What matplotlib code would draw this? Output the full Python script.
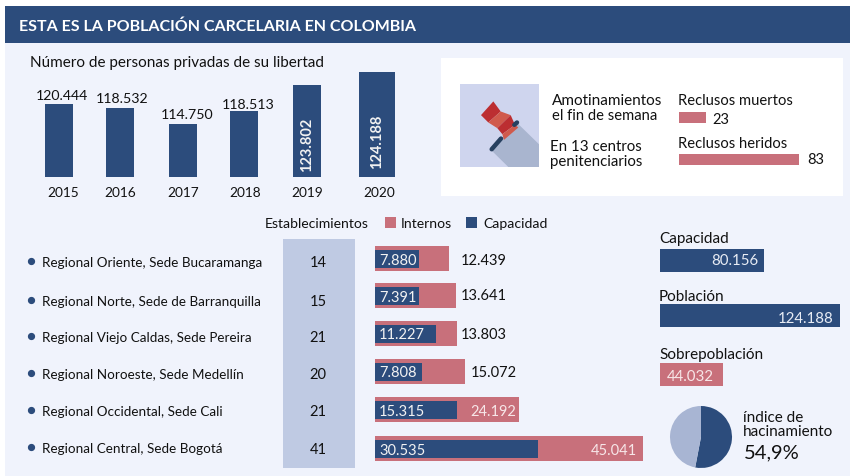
import matplotlib
matplotlib.use("Agg")
import matplotlib.pyplot as plt
from matplotlib.patches import Rectangle, Polygon

plt.rcParams['font.family'] = ['Lato', 'DejaVu Sans']

# Datos
anios = ["2015", "2016", "2017", "2018", "2019", "2020"]
personas = ["120.444", "118.532", "114.750", "118.513", "123.802", "124.188"]
# las barras de arriba no estan a escala, alturas
alturas = [73, 69, 53, 66, 92, 105]

regionales = ["Regional Oriente, Sede Bucaramanga", "Regional Norte, Sede de Barranquilla",
              "Regional Viejo Caldas, Sede Pereira", "Regional Noroeste, Sede Medellín",
              "Regional Occidental, Sede Cali", "Regional Central, Sede Bogotá"]
establecimientos = [14, 15, 21, 20, 21, 41]
internos = [12439, 13641, 13803, 15072, 24192, 45041]
capacidad = [7880, 7391, 11227, 7808, 15315, 30535]
# largo dibujado de las barras de capacidad
capacidad_largo = [7395, 7395, 10250, 7900, 13780, 27400]

totales_nombres = ["Capacidad", "Población", "Sobrepoblación"]
totales = [80156, 124188, 44032]
totales_largo = [71800, 124188, 43450]

reclusos_nombres = ["Reclusos muertos", "Reclusos heridos"]
reclusos = [23, 83]
reclusos_largo = [18.7, 83]

hacinamiento = [53, 47]

AZUL = "#2C4C7C"
ROSA = "#C8707B"
FONDO = "#F0F3FC"
TEXTO = "#111111"
W, H = 850, 477


def miles(v):
    return f"{v:,}".replace(",", ".")


def caja(x0, y0, x1, y1):
    # ejes colocados en pixeles de la imagen
    ax = fig.add_axes([x0 / W, 1 - y1 / H, (x1 - x0) / W, (y1 - y0) / H])
    ax.axis("off")
    ax.patch.set_alpha(0)
    return ax


fig = plt.figure(figsize=(8.5, 4.77), dpi=100, facecolor="white")

# Capa de fondo, en coordenadas de pixel
base = caja(0, 0, W, H)
base.set_xlim(0, W)
base.set_ylim(H, 0)

# Capa de textos, encima de todo
tapa = caja(0, 0, W, H)
tapa.set_xlim(0, W)
tapa.set_ylim(H, 0)
tapa.set_zorder(10)


def rect(x0, y0, x1, y1, color):
    base.add_patch(Rectangle((x0, y0), x1 - x0, y1 - y0, color=color, lw=0))


def texto(x, y, s, size=10, color=TEXTO, **kw):
    kw.setdefault("va", "center")
    tapa.text(x, y + 1, s, fontsize=size, color=color, **kw)


rect(5, 7, W, H, FONDO)
rect(5, 7, W, 44, AZUL)
rect(441, 59, 843, 197, "white")
rect(283, 240, 355, 469, "#BFCAE3")

texto(19, 26, "ESTA ES LA POBLACIÓN CARCELARIA EN COLOMBIA", 11.5, "white", fontweight="bold")
texto(30, 62, "Número de personas privadas de su libertad", 11)

# Barras por anio
pos_anios = [59, 120, 183, 244, 307, 377]
anchos = [28, 28, 28, 28, 28, 36]
ax1 = caja(30, 60, 410, 178)
ax1.set_xlim(30, 410)
ax1.set_ylim(0, 118)
ax1.bar(pos_anios, alturas, width=anchos, color=AZUL)
pos_etq = [(62, 95), (122, 98), (187, 114), (248, 104)]
for (x, y), s in zip(pos_etq, personas[:4]):
    texto(x, y, s, 10.2, ha="center")
texto(307, 144, personas[4], 10.5, "#F2F2F2", rotation=90, ha="center", fontweight="bold")
texto(377, 141, personas[5], 10.5, "#F2F2F2", rotation=90, ha="center", fontweight="bold")
pos_anio_txt = [63, 120, 183, 245, 307, 379]
for x, s in zip(pos_anio_txt, anios):
    texto(x, 192, s, 9.8, ha="center")

# Icono de la bandera
ic = caja(460, 85, 539, 168)
ic.set_xlim(15, 252)
ic.set_ylim(263, 15)
ic.add_patch(Rectangle((15, 15), 237, 248, color="#CFD5EE", lw=0))
ic.add_patch(Polygon([(185, 130), (252, 195), (252, 263), (160, 263), (108, 212), (140, 178)],
                     color="#A9B5CF", lw=0))
ic.plot([110, 138], [210, 178], color="#27405F", lw=3.2, solid_capstyle="round")
ic.plot([178, 186], [137, 130], color="#27405F", lw=3.2, solid_capstyle="round")
ic.add_patch(Polygon([(115, 67), (137, 97), (100, 130), (78, 108)], color="#BC2E31", lw=0))
ic.add_patch(Polygon([(137, 97), (167, 108), (127, 147), (100, 130)], color="#D05A4C", lw=0))
ic.add_patch(Polygon([(167, 108), (180, 137), (142, 165), (127, 147)], color="#BC2E31", lw=0))
ic.add_patch(Polygon([(180, 137), (190, 145), (147, 182), (142, 165)], color="#D05A4C", lw=0))

texto(552, 100, "Amotinamientos", 11)
texto(552, 115, "el fin de semana", 10.6)
texto(550, 146, "En 13 centros", 10.8)
texto(550, 161, "penitenciarios", 10.8)

# Reclusos
ax2 = caja(679, 100, 799, 172)
ax2.set_xlim(0, 83)
ax2.set_ylim(72, 0)
ax2.barh([18.5, 60.5], reclusos_largo, height=11, color=ROSA)
texto(678, 100, reclusos_nombres[0], 10.65)
texto(678, 143, reclusos_nombres[1], 10.65)
texto(712, 119, str(reclusos[0]), 10.5)
texto(807, 159, str(reclusos[1]), 10.5)

# Leyenda
texto(265, 223, "Establecimientos", 10.1)
rect(385, 218, 396, 229, ROSA)
texto(401, 223, "Internos", 10.1)
rect(466, 218, 477, 229, AZUL)
texto(483, 223, "Capacidad", 10.1)

# Regionales
ys_nombre = [262, 301, 337, 374, 411, 448]
ys_num = [262, 301, 337, 374, 411, 449]
for y, n, yn, e in zip(ys_nombre, regionales, ys_num, establecimientos):
    tapa.plot([31], [y], "o", color=AZUL, ms=4.2)
    texto(42, y, n, 9.7)
    texto(318, yn, str(e), 10.5, ha="center")

filas = [259.5, 296.5, 334.5, 372.5, 410.5, 449.5]
ax3 = caja(375, 240, 643, 469)
ax3.set_xlim(0, 45041)
ax3.set_ylim(469, 240)
ax3.barh(filas, internos, height=25, color=ROSA)
ax3.barh(filas, capacidad_largo, height=18, color=AZUL)

ys_cap = [260, 297, 334, 372, 411, 450]
for y, c in zip(ys_cap, capacidad):
    texto(379, y, miles(c), 10.5, "#F2F2F2")
ys_int = [260, 295, 334, 372]
xs_int = [461, 461, 461, 471]
for x, y, v in zip(xs_int, ys_int, internos[:4]):
    texto(x, y, miles(v), 10.5)
texto(516, 411, miles(internos[4]), 10.5, "#F7E6E8", ha="right")
texto(637, 450, miles(internos[5]), 10.5, "#F7E6E8", ha="right")

# Totales
ax4 = caja(660, 240, 840, 390)
ax4.set_xlim(0, 124188)
ax4.set_ylim(390, 240)
ax4.barh([261.5, 316.5, 375.5], totales_largo, height=23, color=[AZUL, AZUL, ROSA])
texto(659, 238, totales_nombres[0], 11)
texto(659, 296, totales_nombres[1], 11)
texto(659, 354, totales_nombres[2], 11)
texto(758, 260, miles(totales[0]), 10.8, "#E8ECF4", ha="right")
texto(834, 318, miles(totales[1]), 10.8, "#E8ECF4", ha="right")
texto(690, 376, miles(totales[2]), 10.8, "#F7E6E8", ha="center")

# Torta de hacinamiento
ax5 = caja(670, 407, 732, 469)
ax5.pie(hacinamiento, colors=[AZUL, "#A8B5D3"], startangle=90, counterclock=False, radius=1.0)
ax5.set_xlim(-1, 1)
ax5.set_ylim(-1, 1)
texto(743, 417, "índice de", 11)
texto(743, 431, "hacinamiento", 11)
texto(744, 452, "54,9%", 14.5)

fig.savefig("out.png", dpi=100)
